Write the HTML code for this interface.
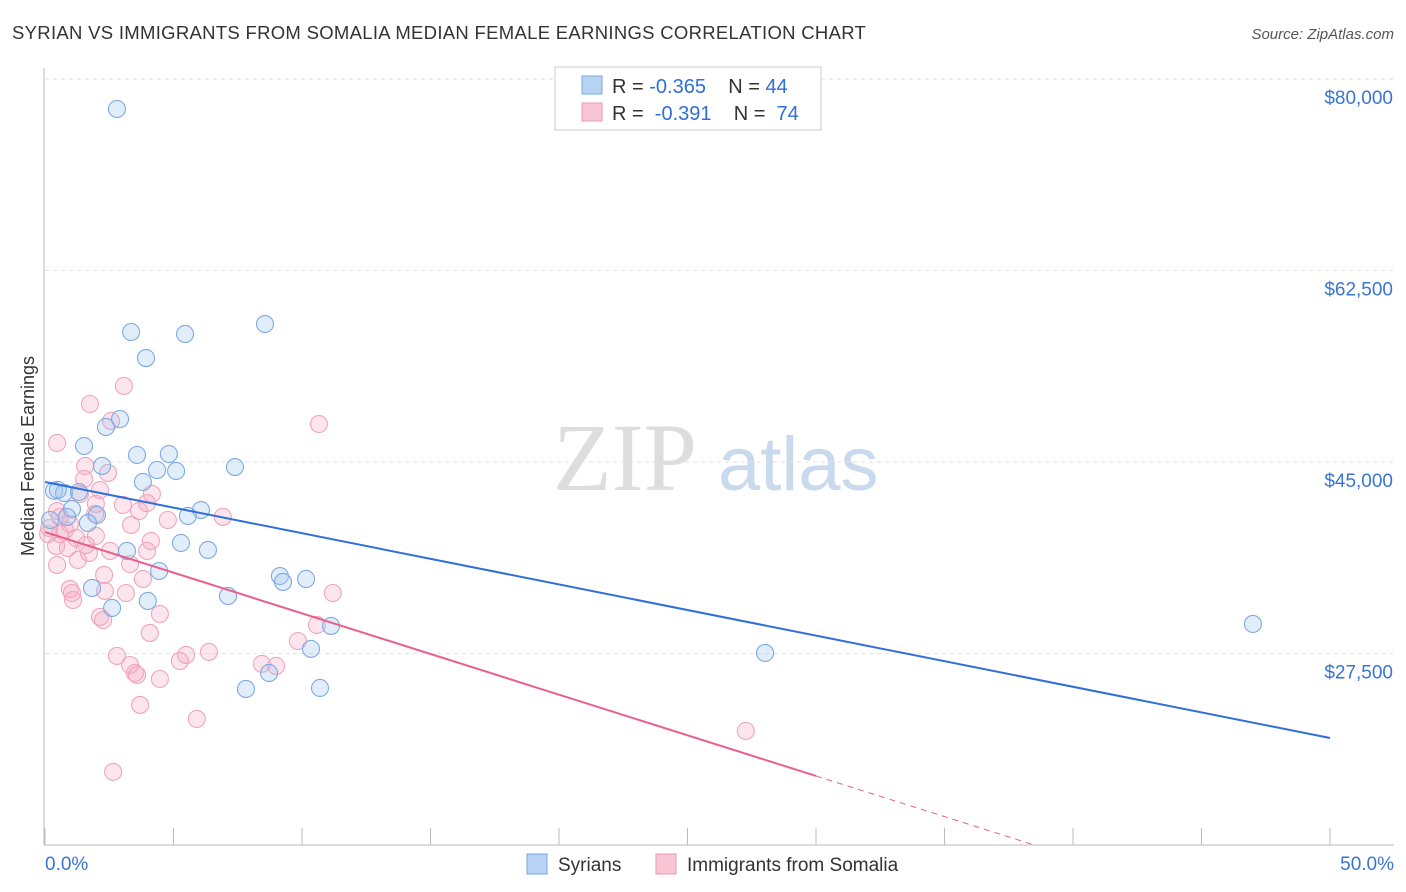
<!DOCTYPE html>
<html><head><meta charset="utf-8"><style>
body{margin:0;background:#fff;font-family:"Liberation Sans",sans-serif;}
svg{display:block}
</style></head><body>
<svg id="chart" width="1406" height="892">
<text x="12" y="39" font-size="18.5" letter-spacing="0.3" fill="#333">SYRIAN VS IMMIGRANTS FROM SOMALIA MEDIAN FEMALE EARNINGS CORRELATION CHART</text>
<text x="1394" y="39" font-size="15" fill="#555" font-style="italic" text-anchor="end">Source: ZipAtlas.com</text>
<g><text x="553" y="490" font-size="96" fill="#ddd" font-family="Liberation Serif,serif">ZIP</text><text x="718" y="490" font-size="76" fill="#c9d9ee">atlas</text></g>
<text transform="translate(34,456) rotate(-90)" font-size="18" fill="#333" text-anchor="middle">Median Female Earnings</text>
<g id="grid"></g><g id="axes"></g><g id="pts"></g><g id="lines"></g>
<g>
<rect x="555" y="67" width="266" height="63" fill="#fff" stroke="#ccc"/>
<rect x="582" y="76" width="20" height="18" fill="#b8d2f3" stroke="#7aa6e0"/>
<rect x="582" y="103" width="20" height="18" fill="#f9c6d6" stroke="#eb97b3"/>
<text x="612" y="93" font-size="20" fill="#333" xml:space="preserve">R = <tspan fill="#2f6fd8">-0.365</tspan>    N = <tspan fill="#2f6fd8">44</tspan></text>
<text x="612" y="120" font-size="20" fill="#333" xml:space="preserve">R =  <tspan fill="#2f6fd8">-0.391</tspan>    N =  <tspan fill="#2f6fd8">74</tspan></text>
</g>
<g>
<rect x="527" y="854" width="20" height="20" fill="#b8d2f3" stroke="#7aa6e0"/>
<text x="558" y="871" font-size="19" fill="#333">Syrians</text>
<rect x="656" y="854" width="20" height="20" fill="#f9c6d6" stroke="#eb97b3"/>
<text x="687" y="871" font-size="19" fill="#333">Immigrants from Somalia</text>
</g>
</svg>
<script>
const yTicks=[80000,62500,45000,27500];
const yTickLabels=["$80,000","$62,500","$45,000","$27,500"];
const xTickLabels=["0.0%","50.0%"];
const syrX=[2.8,3.35,5.45,8.56,3.93,2.92,2.37,1.52,3.58,4.82,4.36,5.1,7.39,2.22,0.35,0.74,1.32,3.81,1.05,6.07,5.56,2.02,0.86,1.67,0.2,5.29,3.19,6.34,4.44,9.14,10.16,9.26,1.83,4.0,7.12,2.61,11.13,10.35,7.82,8.72,10.7,28.02,47.0,0.5];
const syrY=[77260,56880,56700,57610,54500,48930,48200,46460,45640,45730,44270,44180,44540,44640,42360,42170,42260,43170,40700,40610,40070,40160,39980,39430,39700,37600,36870,36960,35040,34580,34310,34040,33490,32300,32760,31660,30020,27920,24260,25720,24350,27550,30200,42450];
const somX=[0.47,1.75,3.07,2.57,10.66,1.56,2.45,1.52,2.14,1.36,4.16,1.98,3.03,3.97,0.47,0.58,1.95,3.66,4.78,6.92,0.97,3.35,0.16,0.58,1.21,1.98,4.12,0.43,0.89,1.71,2.53,3.31,3.97,0.47,2.3,3.81,0.97,1.05,1.09,2.33,3.15,4.47,11.2,2.14,2.26,4.08,9.84,10.58,2.8,3.31,3.5,3.58,5.25,5.49,6.38,8.44,8.99,4.47,3.7,5.91,2.65,27.27,1.6,0.78,1.28,0.12];
const somY=[46740,50300,51950,48750,48470,44640,44000,43450,42440,42080,42080,41170,41080,41250,40520,39980,40250,40520,39700,39980,39340,39250,38970,38420,38060,38240,37780,37330,37140,36690,36870,35680,36870,35590,34680,34310,33400,33030,32390,33210,33030,31110,33030,30840,30560,29380,28640,30110,27280,26450,25720,25540,26820,27370,27640,26550,26360,25170,22800,21520,16680,20420,37420,38790,36050,38420];
const syrLine=[43170,19780];
const somLine=[38600,16310];
const X0=45,X1=1330,YB=845;
const sx=v=>X0+(v/50)*(X1-X0);
const sy=v=>79+(80000-v)/1000*10.943;
const NS="http://www.w3.org/2000/svg";
function mk(parent,tag,attrs){const e=document.createElementNS(NS,tag);for(const k in attrs)e.setAttribute(k,attrs[k]);document.getElementById(parent).appendChild(e);return e;}
yTicks.forEach((t,i)=>{
 const g=mk('grid','line',{x1:X0,x2:1394,y1:sy(t),y2:sy(t),stroke:'#e2e2e2','stroke-dasharray':'4,4'});
 
 
 const l=mk('axes','text',{x:1393,y:sy(t)+25,'font-size':19,fill:'#3a75d0','text-anchor':'end'});
 l.textContent=yTickLabels[i];
 
 
});
const ya=mk('axes','line',{x1:44,x2:44,y1:68,y2:YB,stroke:'#bbb'});


const xa=mk('axes','line',{x1:44,x2:1394,y1:YB,y2:YB,stroke:'#bbb'});


for(let p=0;p<=50;p+=5){const t=mk('axes','line',{x1:sx(p),x2:sx(p),y1:828,y2:YB,stroke:'#bbb'});
 
 }
[[0,'start',45],[50,'end',1394]].forEach((d,i)=>{const t=mk('axes','text',{x:d[2],y:870,'font-size':19,fill:'#3a75d0','text-anchor':d[1]});t.textContent=xTickLabels[i];
 
 });
function pts(xs,ys,fill,stroke,name){xs.forEach((x,i)=>{const c=mk('pts','circle',{cx:sx(x),cy:sy(ys[i]),r:8.5,fill:fill,stroke:stroke,'stroke-width':1.1});
 
 });}
pts(somX,somY,'rgba(246,170,196,0.3)','#f0a5bf','somalia-point');
pts(syrX,syrY,'rgba(160,195,240,0.3)','#7eaae4','syrian-point');
const bl=mk('lines','line',{x1:sx(0),y1:sy(syrLine[0]),x2:sx(50),y2:sy(syrLine[1]),stroke:'#2f6fd8','stroke-width':2});


const pl=mk('lines','line',{x1:sx(0),y1:sy(somLine[0]),x2:sx(30),y2:sy(somLine[1]),stroke:'#e8608e','stroke-width':2});


const slope=(somLine[1]-somLine[0])/30;
const xEnd=(10000-somLine[0])/slope;
const pd=mk('lines','line',{x1:sx(30),y1:sy(somLine[1]),x2:sx(xEnd),y2:sy(10000),stroke:'#e8608e','stroke-width':1,'stroke-dasharray':'6,5'});


</script>
</body></html>
